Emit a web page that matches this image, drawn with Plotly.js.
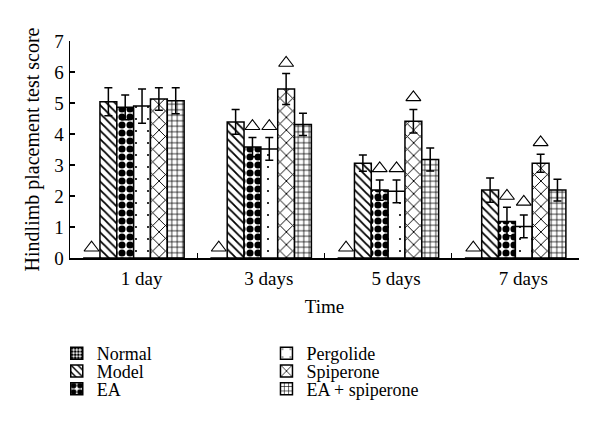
<!DOCTYPE html>
<html><head><meta charset="utf-8">
<script src="https://cdn.plot.ly/plotly-3.0.1.min.js"></script>
<style>html,body{margin:0;padding:0;background:#fff}</style>
</head><body>
<div id="chart" style="width:600px;height:441px"></div>
<script>
// ---- data ----
const groups = ['1 day', '3 days', '5 days', '7 days'];
const seriesNames = ['Normal', 'Model', 'EA', 'Pergolide', 'Spiperone', 'EA + spiperone'];

const normal      = [0, 0, 0, 0];
const normalErr   = [0, 0, 0, 0];
const model       = [5.04, 4.39, 3.06, 2.19];
const modelErr    = [0.45, 0.40, 0.26, 0.39];
const ea          = [4.86, 3.58, 2.19, 1.18];
const eaErr       = [0.40, 0.31, 0.33, 0.46];
const pergolide   = [4.90, 3.52, 2.15, 1.02];
const pergolideErr= [0.55, 0.37, 0.37, 0.37];
const spiperone   = [5.13, 5.45, 4.41, 3.06];
const spiperoneErr= [0.36, 0.50, 0.38, 0.29];
const eaSpip      = [5.07, 4.31, 3.18, 2.19];
const eaSpipErr   = [0.42, 0.36, 0.37, 0.35];

// significance markers (triangles)
const normalSig    = [0.33, 0.33, 0.33, 0.33];
const modelSig     = [null, null, null, null];
const eaSig        = [null, 4.25, 2.89, 2.00];
const pergolideSig = [null, 4.25, 2.89, 1.81];
const spiperoneSig = [null, 6.29, 5.18, 3.73];
const eaSpipSig    = [null, null, null, null];

// ---- styles ----
const FONT = 'Liberation Serif, Times New Roman, DejaVu Serif, serif';
const patterns = [
  {shape: '.', size: 4, solidity: 0.6},
  {shape: '\\', size: 6, solidity: 0.3},
  {shape: '.', size: 8, solidity: 0.62},
  {shape: '.', size: 12, solidity: 0.025},
  {shape: 'x', size: 9, solidity: 0.2},
  {shape: '+', size: 5.5, solidity: 0.25}
];
const values = [normal, model, ea, pergolide, spiperone, eaSpip];
const errs = [normalErr, modelErr, eaErr, pergolideErr, spiperoneErr, eaSpipErr];
const sigs = [normalSig, modelSig, eaSig, pergolideSig, spiperoneSig, eaSpipSig];

const legendIds = ['legend', 'legend2', 'legend3', 'legend4', 'legend5', 'legend6'];
const traces = [];
seriesNames.forEach((name, i) => {
  traces.push({
    type: 'bar', name: name, x: groups, y: values[i],
    offsetgroup: 'g' + i, legend: legendIds[i],
    marker: {color: '#ffffff', line: {color: '#000', width: 1.5},
             pattern: Object.assign({fgcolor: '#000', bgcolor: '#fff', fillmode: 'overlay', fgopacity: 1}, patterns[i])},
    error_y: {type: 'data', array: errs[i], visible: i > 0, color: '#000', thickness: 1.5, width: 4}
  });
});
seriesNames.forEach((name, i) => {
  traces.push({
    type: 'scatter', mode: 'markers', x: groups, y: sigs[i], showlegend: false,
    offsetgroup: 'g' + i, cliponaxis: false,
    marker: {symbol: 'triangle-up-open', size: 13, color: '#000', line: {width: 1.1, color: '#000'}}
  });
});

const legendX = [-0.026, -0.026, -0.026, 0.386, 0.386, 0.386];
const legendY = [-0.44, -0.522, -0.604, -0.44, -0.522, -0.604];
const layout = {
  width: 600, height: 441,
  margin: {l: 70, r: 21, t: 41, b: 183},
  paper_bgcolor: '#fff', plot_bgcolor: '#fff',
  font: {family: FONT, size: 19, color: '#000'},
  barmode: 'group', bargap: 0.206, bargroupgap: 0,
  scattermode: 'group', scattergap: 0.206,
  xaxis: {
    type: 'category', tickson: 'boundaries', ticks: 'inside', ticklen: 5,
    tickwidth: 1.2, tickcolor: '#000', showline: true, linecolor: '#000', linewidth: 1.5,
    ticklabelshift: 8, ticklabelstandoff: 3,
    title: {text: 'Time', font: {family: FONT, size: 19}, standoff: 11},
    showgrid: false, zeroline: false, fixedrange: true
  },
  yaxis: {
    range: [0, 7], dtick: 1, ticks: 'inside', ticklen: 5, tickwidth: 1.2, tickcolor: '#000',
    showline: true, linecolor: '#000', linewidth: 1.5, showgrid: false, zeroline: false,
    ticklabelstandoff: 1,
    title: {text: 'Hindlimb placement test score', font: {family: FONT, size: 20}, standoff: 9}
  },
  showlegend: true
};
legendIds.forEach((id, i) => {
  layout[id] = {x: legendX[i], y: legendY[i], xanchor: 'left', yanchor: 'middle',
    bgcolor: 'rgba(0,0,0,0)', borderwidth: 0, font: {family: FONT, size: 18}};
});
Plotly.newPlot('chart', traces, layout, {displayModeBar: false, staticPlot: true});
</script>
</body></html>
